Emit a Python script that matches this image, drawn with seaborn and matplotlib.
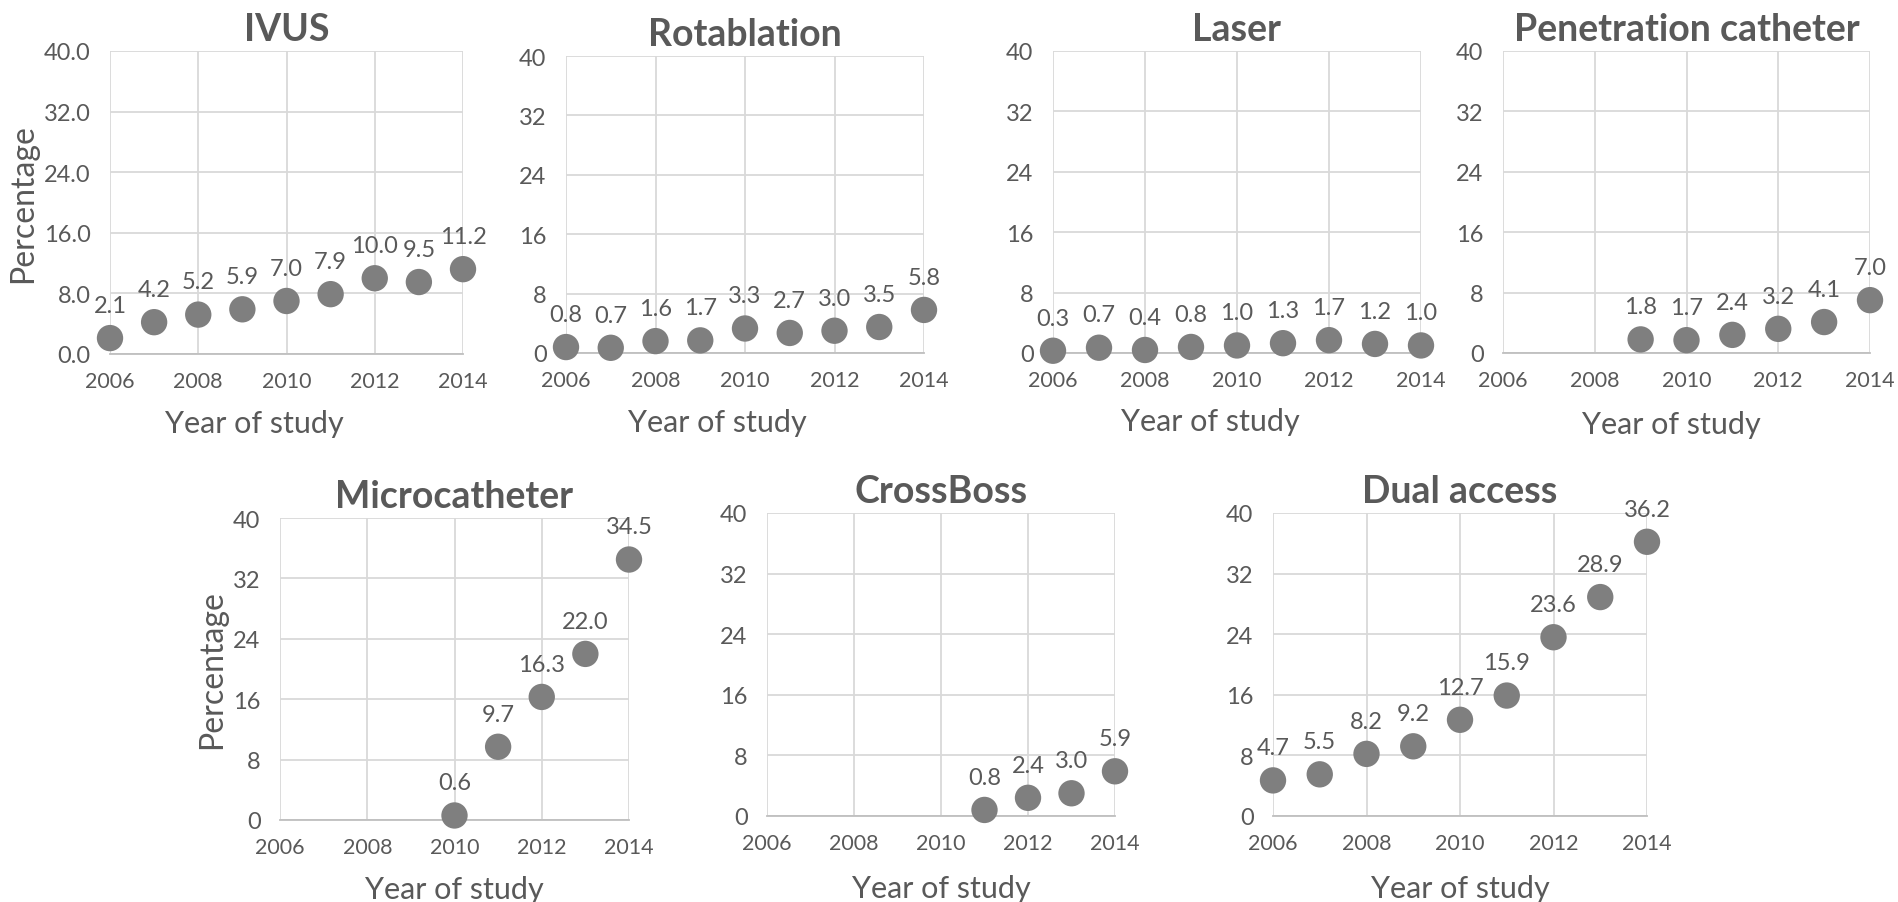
# -*- coding: utf-8 -*-
"""
Small multiples: share of procedures using each technique, by year of study.
"""
import pandas as pd
import matplotlib
matplotlib.use("Agg")
import matplotlib.pyplot as plt
import seaborn as sns

# --- DATA ---
YEARS_ALL = [2006, 2007, 2008, 2009, 2010, 2011, 2012, 2013, 2014]

IVUS = [2.1, 4.2, 5.2, 5.9, 7.0, 7.9, 10.0, 9.5, 11.2]
ROTABLATION = [0.8, 0.7, 1.6, 1.7, 3.3, 2.7, 3.0, 3.5, 5.8]
LASER = [0.3, 0.7, 0.4, 0.8, 1.0, 1.3, 1.7, 1.2, 1.0]

YEARS_PENETRATION = [2009, 2010, 2011, 2012, 2013, 2014]
PENETRATION = [1.8, 1.7, 2.4, 3.2, 4.1, 7.0]

YEARS_MICRO = [2010, 2011, 2012, 2013, 2014]
MICROCATHETER = [0.6, 9.7, 16.3, 22.0, 34.5]

YEARS_CROSSBOSS = [2011, 2012, 2013, 2014]
CROSSBOSS = [0.8, 2.4, 3.0, 5.9]

DUAL_ACCESS = [4.7, 5.5, 8.2, 9.2, 12.7, 15.9, 23.6, 28.9, 36.2]

X_TICKS = [2006, 2008, 2010, 2012, 2014]
Y_TICKS = [0, 8, 16, 24, 32, 40]

# --- STYLE ---
W, H = 1899, 903
TEXT = "#595959"
GRID = "#d9d9d9"
DOT = "#7f7f7f"

sns.set_style("white")
plt.rcParams["font.family"] = ["Lato", "DejaVu Sans"]


def px_rect(x0, y0, x1, y1):
    """Rectangle in pixel coords (top-left origin) -> figure fraction."""
    return [x0 / W, 1 - y1 / H, (x1 - x0) / W, (y1 - y0) / H]


def draw_panel(fig, rect, title, years, values, ylabel=False, decimals=False,
               xlab_pos=(0.5, -0.18)):
    ax = fig.add_axes(px_rect(*rect))
    df = pd.DataFrame({"year": years, "pct": values})
    sns.scatterplot(data=df, x="year", y="pct", ax=ax, s=360, color=DOT,
                    edgecolor="none", clip_on=False, zorder=3)

    for yr, v in zip(years, values):
        ax.annotate(f"{v:.1f}", (yr, v), xytext=(0, 16), textcoords="offset points",
                    ha="center", va="bottom", fontsize=17, color=TEXT, zorder=4,
                    annotation_clip=False)

    ax.set_xlim(2006, 2014)
    ax.set_ylim(0, 40)
    ax.set_xticks(X_TICKS)
    ax.set_yticks(Y_TICKS)
    if decimals:
        ax.set_yticklabels([f"{t:.1f}" for t in Y_TICKS])
    ax.grid(True, color=GRID, linewidth=1.3, zorder=0)
    ax.set_axisbelow(True)
    for side in ["top", "right", "left"]:
        ax.spines[side].set_visible(False)
    ax.spines["bottom"].set_color("#bfbfbf")
    ax.spines["bottom"].set_linewidth(1.3)

    ax.tick_params(axis="y", length=0, pad=14, labelsize=17, labelcolor=TEXT)
    ax.tick_params(axis="x", length=0, pad=12, labelsize=15.5, labelcolor=TEXT)

    ax.set_title(title, fontsize=27, fontweight="bold", color=TEXT, pad=8)
    ax.set_xlabel("Year of study", fontsize=22, color=TEXT)
    ax.xaxis.set_label_coords(*xlab_pos)
    if ylabel:
        ax.set_ylabel("Percentage", fontsize=23, color=TEXT, labelpad=4)
    else:
        ax.set_ylabel("")
    return ax


def main():
    fig = plt.figure(figsize=(W / 100, H / 100), dpi=100)

    # top row (Excel pushed the axis titles a bit to the left here)
    draw_panel(fig, (110, 52, 463, 355), "IVUS", YEARS_ALL, IVUS,
               ylabel=True, decimals=True, xlab_pos=(0.41, -0.183))
    draw_panel(fig, (566, 57, 924, 354), "Rotablation", YEARS_ALL, ROTABLATION,
               xlab_pos=(0.422, -0.185))
    draw_panel(fig, (1053, 52, 1421, 354), "Laser", YEARS_ALL, LASER,
               xlab_pos=(0.427, -0.18))
    draw_panel(fig, (1503, 52, 1870, 354), "Penetration catheter", YEARS_PENETRATION,
               PENETRATION, xlab_pos=(0.46, -0.19))

    # bottom row
    draw_panel(fig, (280, 519, 629, 821), "Microcatheter", YEARS_MICRO, MICROCATHETER,
               ylabel=True, xlab_pos=(0.5, -0.182))
    draw_panel(fig, (767, 514, 1115, 817), "CrossBoss", YEARS_CROSSBOSS, CROSSBOSS,
               xlab_pos=(0.5, -0.192))
    draw_panel(fig, (1273, 514, 1647, 817), "Dual access", YEARS_ALL, DUAL_ACCESS,
               xlab_pos=(0.5, -0.19))

    fig.savefig("out.png", dpi=100, facecolor="white")


if __name__ == "__main__":
    main()
